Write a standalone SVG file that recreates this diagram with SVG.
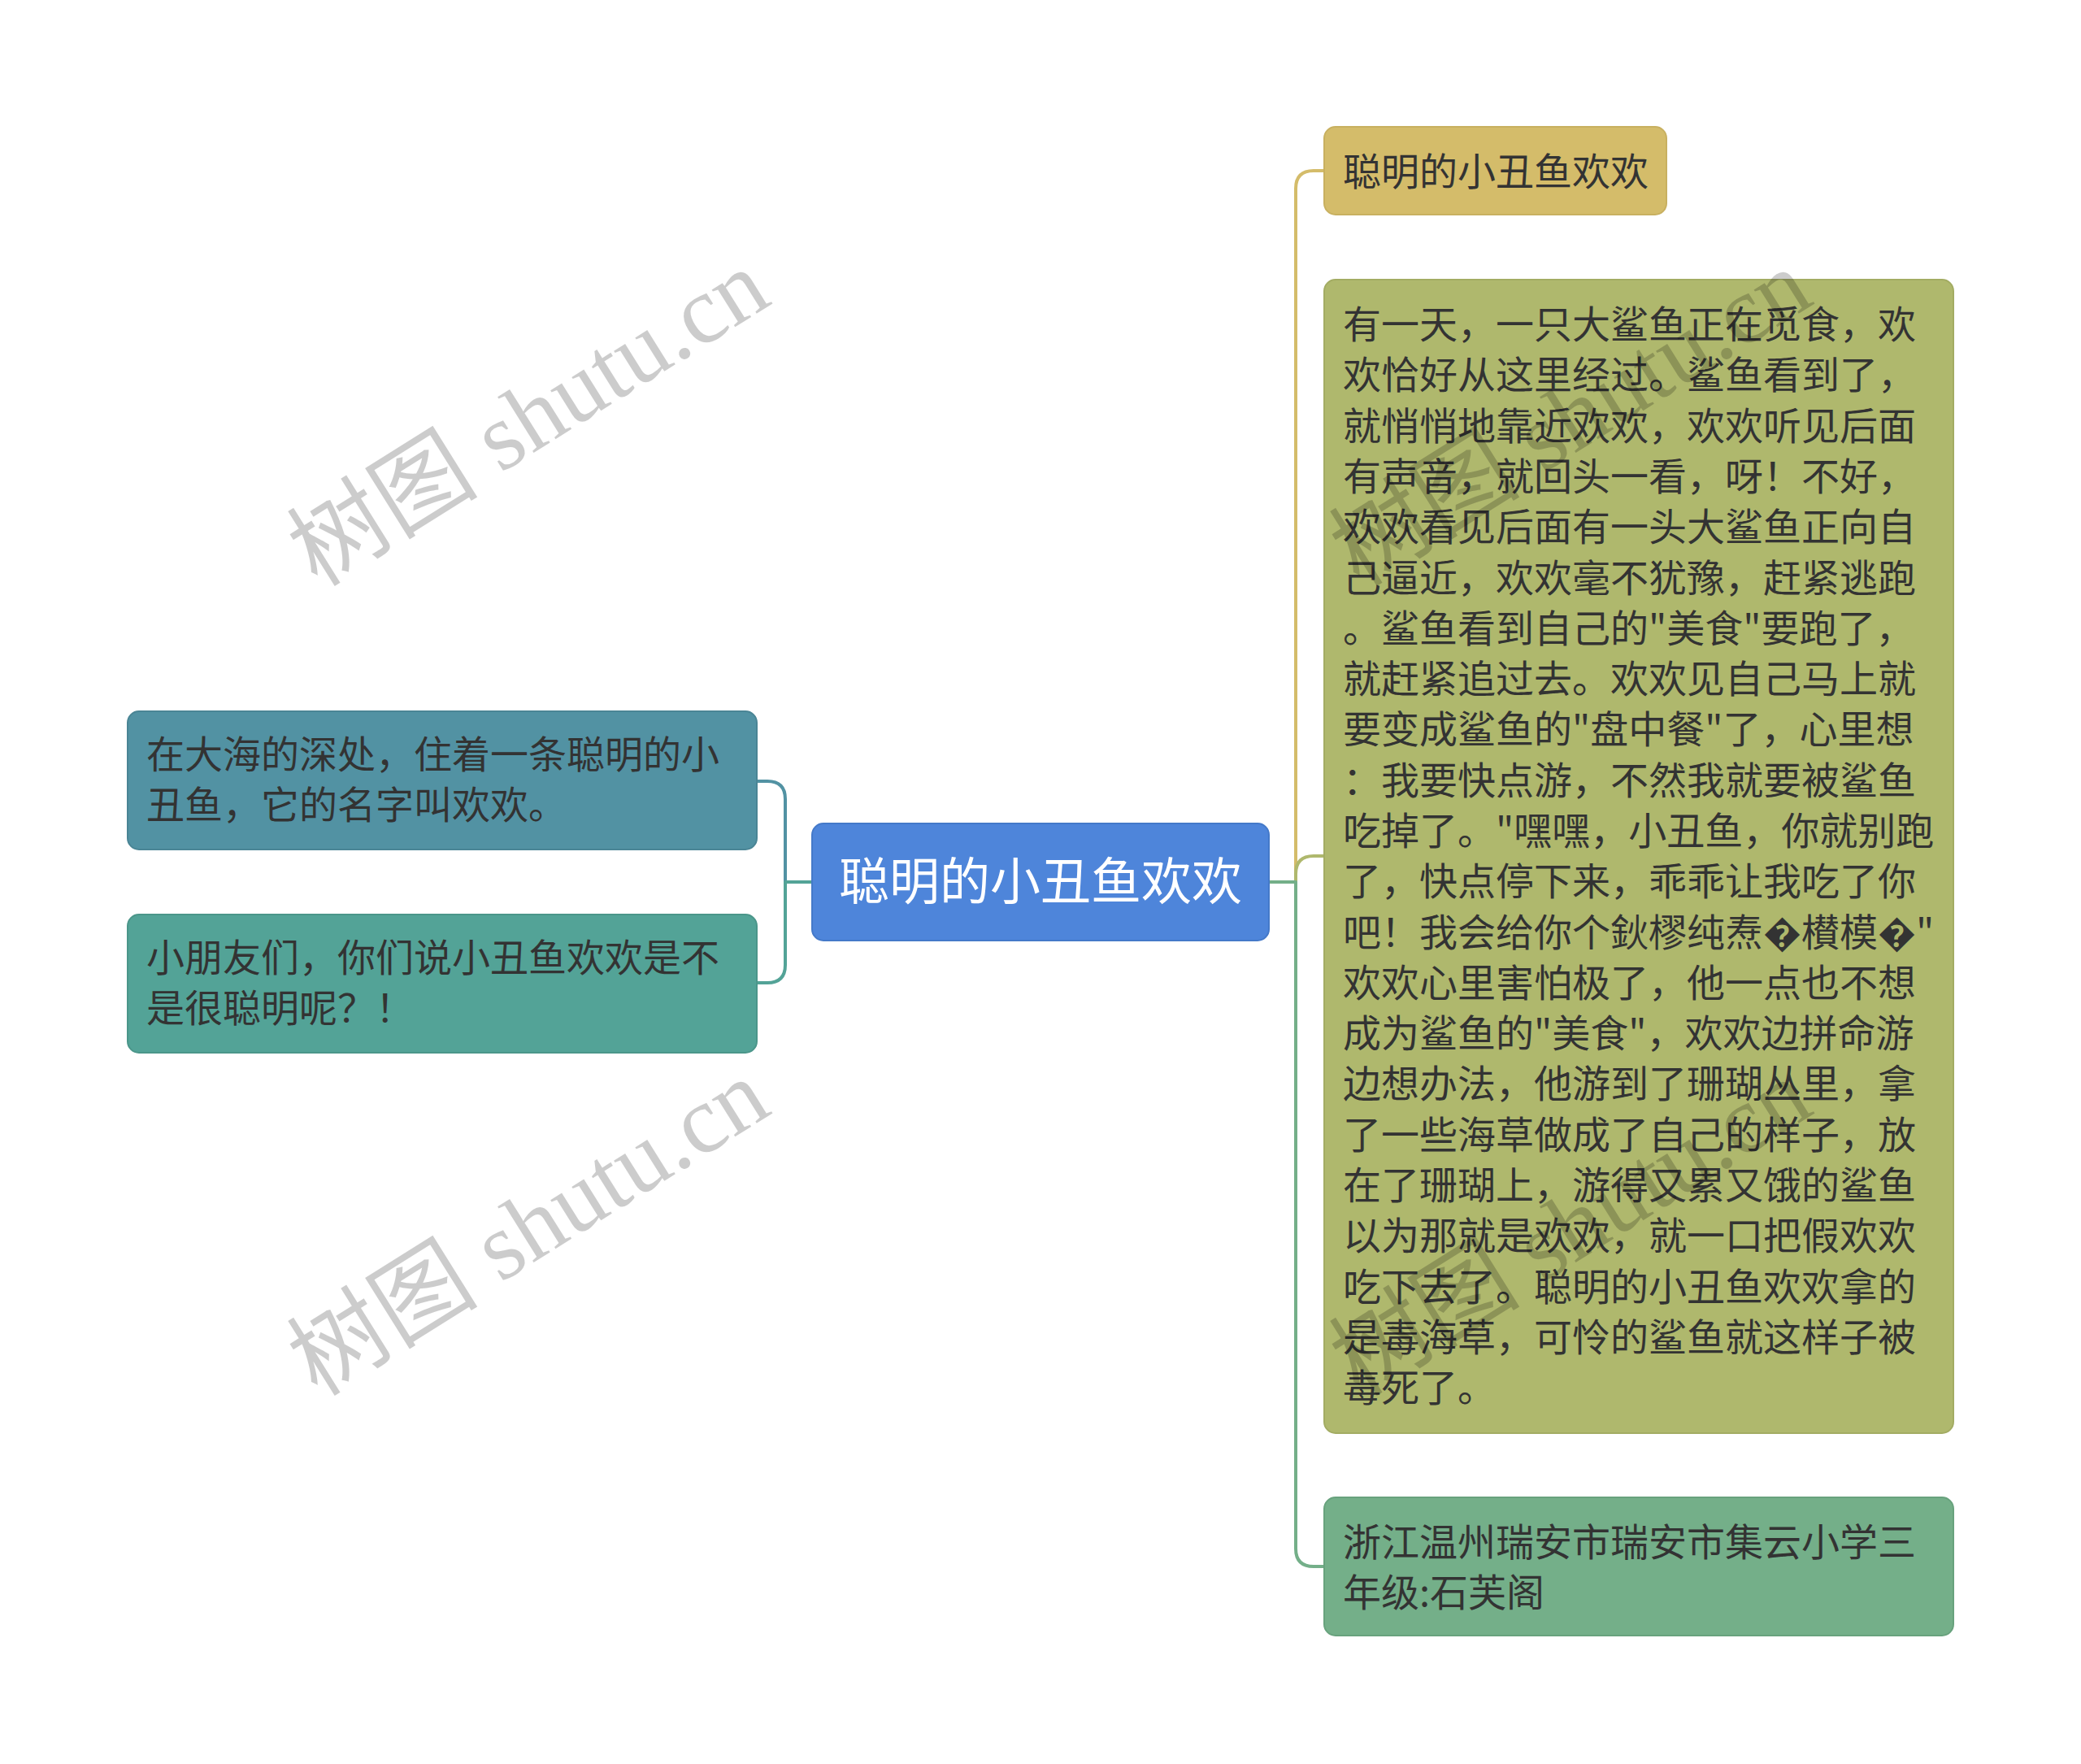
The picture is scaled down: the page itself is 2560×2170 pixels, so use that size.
<svg xmlns="http://www.w3.org/2000/svg" width="2560" height="2170" viewBox="0 0 2560 2170">
<style>
.t{font-family:"Noto Sans CJK SC","Noto Sans",sans-serif;font-size:47px;fill:#333333}
.c{font-family:"Noto Sans CJK SC","Noto Sans",sans-serif;font-size:62px;fill:#ffffff}
.ln{fill:none;stroke-width:4;stroke-linecap:round;stroke-linejoin:round}
.wm{font-family:"Liberation Serif","Noto Sans CJK SC",serif;font-size:118px;fill:#000000;fill-opacity:0.2}
</style>
<rect x="0" y="0" width="2560" height="2170" fill="#ffffff"/>
<g id="connectors">
<path class="ln" stroke="#5292A3" d="M999,1085 H966 V983 Q966,961 944,961 H931"/>
<path class="ln" stroke="#53A397" d="M999,1085 H966 V1187 Q966,1209 944,1209 H931"/>
<path class="ln" stroke="#D4BC6A" d="M1561,1085 H1594 V232 Q1594,210 1616,210 H1629"/>
<path class="ln" stroke="#AFB86D" d="M1561,1085 H1594 V1075 Q1594,1053 1616,1053 H1629"/>
<path class="ln" stroke="#74AF89" d="M1561,1085 H1594 V1905 Q1594,1927 1616,1927 H1629"/>
</g>
<g id="center">
<rect x="999" y="1013" width="562" height="144" rx="14" fill="#4E85DA" stroke="#4479C9" stroke-width="2"/>
<text class="c" x="1032" y="1107">聪明的小丑鱼欢欢</text>
</g>
<g id="left1">
<rect x="157" y="875" width="774" height="170" rx="14" fill="#5292A3" stroke="#4A8595" stroke-width="2"/>
<text class="t" x="180" y="945">在大海的深处，住着一条聪明的小<tspan x="180" dy="62.3">丑鱼，它的名字叫欢欢。</tspan></text>
</g>
<g id="left2">
<rect x="157" y="1125" width="774" height="170" rx="14" fill="#53A397" stroke="#4B968A" stroke-width="2"/>
<text class="t" x="180" y="1195">小朋友们，你们说小丑鱼欢欢是不<tspan x="180" dy="62.3">是很聪明呢？！</tspan></text>
</g>
<g id="right1">
<rect x="1629" y="156" width="421" height="108" rx="14" fill="#D4BC6A" stroke="#C8B060" stroke-width="2"/>
<text class="t" x="1652" y="228">聪明的小丑鱼欢欢</text>
</g>
<g id="right2">
<rect x="1629" y="344" width="774" height="1419" rx="14" fill="#AFB86D" stroke="#A3AC63" stroke-width="2"/>
<text class="t" x="1652" y="416">有一天，一只大鲨鱼正在觅食，欢<tspan x="1652" dy="62.3">欢恰好从这里经过。鲨鱼看到了，</tspan><tspan x="1652" dy="62.3">就悄悄地靠近欢欢，欢欢听见后面</tspan><tspan x="1652" dy="62.3">有声音，就回头一看，呀！不好，</tspan><tspan x="1652" dy="62.3">欢欢看见后面有一头大鲨鱼正向自</tspan><tspan x="1652" dy="62.3">己逼近，欢欢毫不犹豫，赶紧逃跑</tspan><tspan x="1652" dy="62.3">。鲨鱼看到自己的"美食"要跑了，</tspan><tspan x="1652" dy="62.3">就赶紧追过去。欢欢见自己马上就</tspan><tspan x="1652" dy="62.3">要变成鲨鱼的"盘中餐"了，心里想</tspan><tspan x="1652" dy="62.3">：我要快点游，不然我就要被鲨鱼</tspan><tspan x="1652" dy="62.3">吃掉了。"嘿嘿，小丑鱼，你就别跑</tspan><tspan x="1652" dy="62.3">了，快点停下来，乖乖让我吃了你</tspan><tspan x="1652" dy="62.3">吧！我会给你个鈥樛纯焘�櫕模�"</tspan><tspan x="1652" dy="62.3">欢欢心里害怕极了，他一点也不想</tspan><tspan x="1652" dy="62.3">成为鲨鱼的"美食"，欢欢边拼命游</tspan><tspan x="1652" dy="62.3">边想办法，他游到了珊瑚丛里，拿</tspan><tspan x="1652" dy="62.3">了一些海草做成了自己的样子，放</tspan><tspan x="1652" dy="62.3">在了珊瑚上，游得又累又饿的鲨鱼</tspan><tspan x="1652" dy="62.3">以为那就是欢欢，就一口把假欢欢</tspan><tspan x="1652" dy="62.3">吃下去了。聪明的小丑鱼欢欢拿的</tspan><tspan x="1652" dy="62.3">是毒海草，可怜的鲨鱼就这样子被</tspan><tspan x="1652" dy="62.3">毒死了。</tspan></text>
</g>
<g id="right3">
<rect x="1629" y="1842" width="774" height="170" rx="14" fill="#74AF89" stroke="#68A27D" stroke-width="2"/>
<text class="t" x="1652" y="1914">浙江温州瑞安市瑞安市集云小学三<tspan x="1652" dy="62.3">年级:石芙阁</tspan></text>
</g>
<g id="watermarks">
<text class="wm" text-anchor="middle" transform="translate(650,514) rotate(-32)" x="0" y="40">树图 shutu.cn</text>
<text class="wm" text-anchor="middle" transform="translate(650,1510) rotate(-32)" x="0" y="40">树图 shutu.cn</text>
<text class="wm" text-anchor="middle" transform="translate(1932,514) rotate(-32)" x="0" y="40">树图 shutu.cn</text>
<text class="wm" text-anchor="middle" transform="translate(1932,1510) rotate(-32)" x="0" y="40">树图 shutu.cn</text>
</g>
</svg>
